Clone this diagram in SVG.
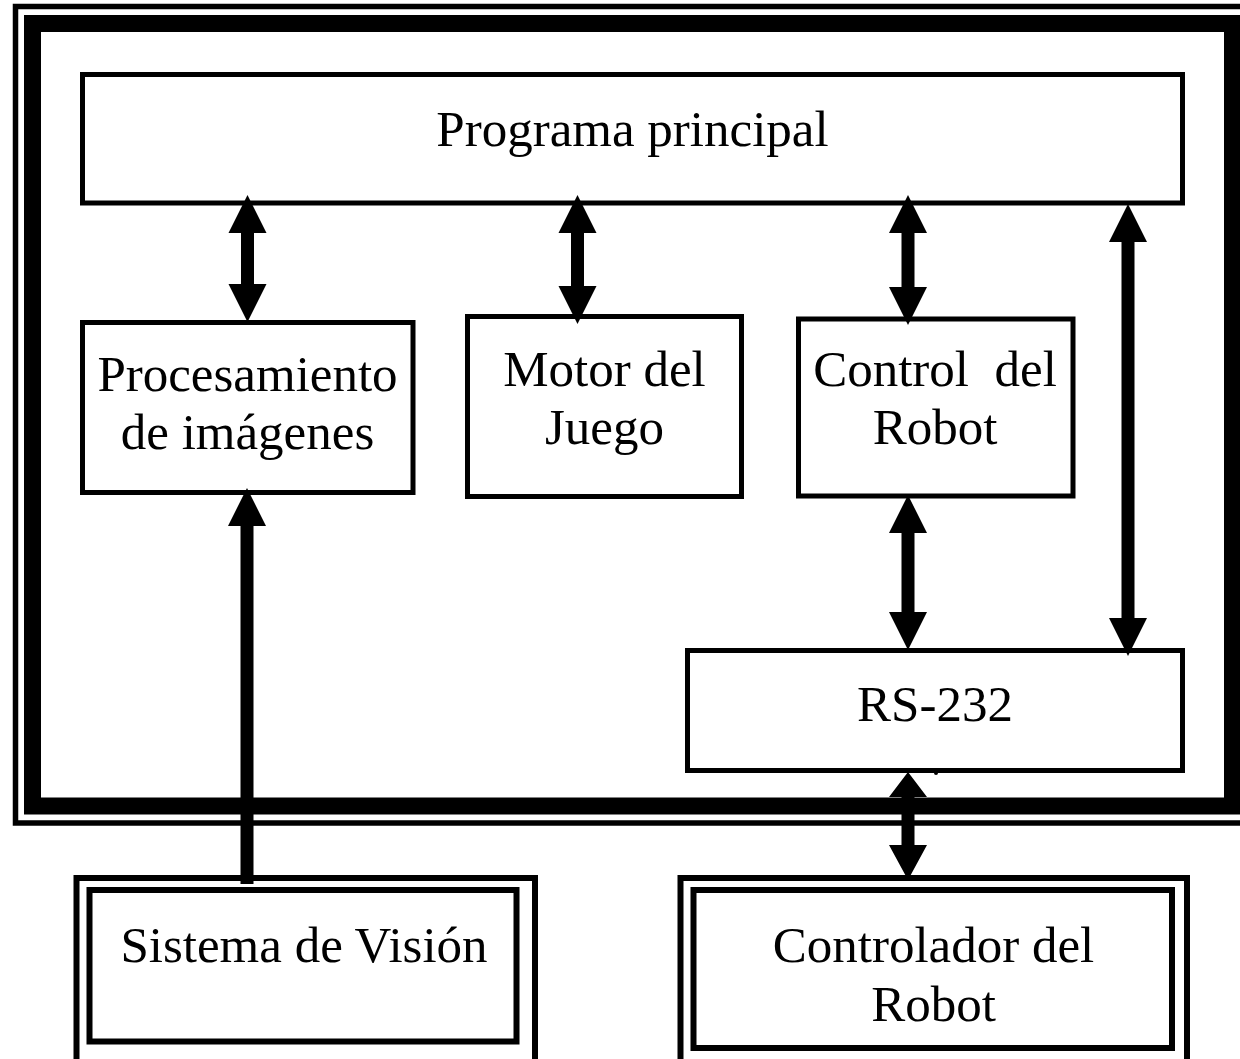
<svg xmlns="http://www.w3.org/2000/svg" width="1240" height="1059" viewBox="0 0 1240 1059">
<style>
.box{fill:#fff;stroke:#000;stroke-width:5}
.dbl{fill:none;stroke:#000;stroke-width:6}
.t{font-family:"Liberation Serif","Times New Roman",serif;font-size:51px;fill:#000;text-anchor:middle}
.arr{fill:#000;stroke:none}
</style>
<rect width="1240" height="1059" fill="#fff"/>
<g id="frame">
<rect x="15.5" y="6.5" width="1240" height="816.5" fill="none" stroke="#000" stroke-width="5.5"/>
<rect x="32.5" y="23.5" width="1200" height="782.5" fill="none" stroke="#000" stroke-width="17"/>
</g>
<g id="programa">
<rect class="box" x="82.5" y="74.5" width="1100" height="128.5"/>
<text class="t" x="632.5" y="146">Programa principal</text>
</g>
<g id="procesamiento">
<rect class="box" x="82.5" y="322.5" width="330.5" height="170"/>
<text class="t" x="247.5" y="391">Procesamiento</text>
<text class="t" x="247.5" y="449">de imágenes</text>
</g>
<g id="motor">
<rect class="box" x="467.5" y="316.5" width="274" height="180"/>
<text class="t" x="604.5" y="386">Motor del</text>
<text class="t" x="604.5" y="444">Juego</text>
</g>
<g id="control">
<rect class="box" x="798.5" y="319" width="274.5" height="177"/>
<text class="t" x="935" y="386" xml:space="preserve">Control  del</text>
<text class="t" x="935" y="444">Robot</text>
</g>
<g id="rs232">
<rect class="box" x="687.5" y="650.5" width="495" height="120"/>
<text class="t" x="935" y="721">RS-232</text>
<circle cx="936" cy="773" r="2" fill="#000"/>
</g>
<g id="vision">
<rect class="dbl" x="76.5" y="878" width="458.5" height="200"/>
<rect class="dbl" x="89.5" y="890" width="427" height="151.5"/>
<text class="t" x="304" y="962">Sistema de Visión</text>
</g>
<g id="controlador">
<rect class="dbl" x="680.5" y="878" width="506.5" height="200"/>
<rect class="dbl" x="693.5" y="890" width="478.5" height="158"/>
<text class="t" x="933.5" y="962">Controlador del</text>
<text class="t" x="933.5" y="1021">Robot</text>
</g>
<g id="connectors">
<path class="arr" d="M247.5,195 L266.5,233 L254,233 L254,284 L266.5,284 L247.5,322 L228.5,284 L241,284 L241,233 L228.5,233 Z"/>
<path class="arr" d="M577.5,195 L596.5,233 L584,233 L584,286 L596.5,286 L577.5,324 L558.5,286 L571,286 L571,233 L558.5,233 Z"/>
<path class="arr" d="M908,195 L927,233 L914.5,233 L914.5,287 L927,287 L908,325 L889,287 L901.5,287 L901.5,233 L889,233 Z"/>
<path class="arr" d="M1128,204 L1147,242 L1134.5,242 L1134.5,618 L1147,618 L1128,656 L1109,618 L1121.5,618 L1121.5,242 L1109,242 Z"/>
<path class="arr" d="M908,495 L927,533 L914.5,533 L914.5,612 L927,612 L908,650 L889,612 L901.5,612 L901.5,533 L889,533 Z"/>
<path class="arr" d="M247,488 L266,526 L253.5,526 L253.5,884 L240.5,884 L240.5,526 L228,526 Z"/>
<path class="arr" d="M908,772 L927,797 L914.5,797 L914.5,845 L927,845 L908,880 L889,845 L901.5,845 L901.5,797 L889,797 Z"/>
</g>
</svg>
